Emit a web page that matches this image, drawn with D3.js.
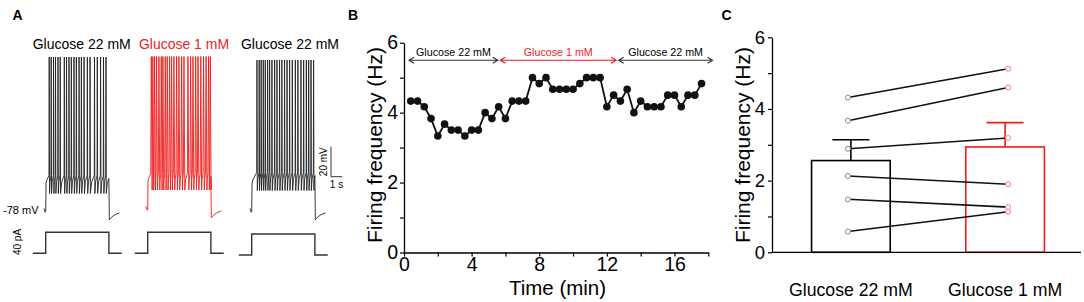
<!DOCTYPE html>
<html>
<head>
<meta charset="utf-8">
<script src="https://cdn.jsdelivr.net/npm/d3@7"></script>
<style>
  body { margin: 0; background: #fff; }
  text { font-family: Arial, "Liberation Sans", sans-serif; }
</style>
</head>
<body>
<div id="chart"></div>
<script>
// ---- panel A : current clamp traces ----
const traceTitles = ["Glucose 22 mM", "Glucose 1 mM", "Glucose 22 mM"];
// spike times (s after step onset)
const spikes22a = [0.28, 0.45, 0.65, 0.82, 1.03, 1.22, 1.57, 1.76, 1.97, 2.17, 2.4, 2.6, 2.83, 3.03, 3.26, 3.54, 3.77, 4.15, 4.39, 4.67, 4.92, 5.13];
const spikes1 = [0.26, 0.39, 0.54, 0.71, 0.91, 1.11, 1.25, 1.45, 1.62, 1.82, 1.99, 2.19, 2.42, 2.62, 2.85, 3.05, 3.39, 3.62, 3.82, 4.05, 4.25, 4.49, 4.72, 4.94, 5.15, 5.3];
const spikes22b = [0.43, 0.62, 0.79, 0.97, 1.14, 1.34, 1.51, 1.71, 1.94, 2.14, 2.36, 2.56, 2.79, 3.0, 3.22, 3.45, 3.71, 3.93, 4.19, 4.42, 4.65, 4.85, 5.05, 5.27];
const spikePeak = [24, 23, 22];          // mV
const spikeThreshold = [-55, -55, -53];  // mV
const spikeTrough = [-67, -66, -65];     // mV
const restMv = -78;
const stepEnd = 5.4;                     // s
const tailTime = [0.04, 0.15, 0.35, 0.6, 0.9];
const tailMv = [-84.5, -83.5, -82, -80.8, -80];
const stepTime = [-1.1, 0, 0, 5.4, 5.4, 6.5];
const stepPa = [0, 0, 40, 40, 0, 0];

// ---- panel B : time course ----
const minutes = [0.4, 0.8, 1.2, 1.6, 2.0, 2.4, 2.8, 3.2, 3.6, 4.0, 4.4, 4.8, 5.2, 5.6, 6.0, 6.4, 6.8, 7.2, 7.6, 8.0, 8.4, 8.8,
  9.2, 9.6, 10.0, 10.4, 10.8, 11.2, 11.6, 12.0, 12.4, 12.8, 13.2, 13.6, 14.0, 14.4, 14.8, 15.2, 15.6, 16.0, 16.4, 16.8, 17.2, 17.6];
const firingHz = [4.33, 4.33, 4.17, 3.83, 3.33, 3.67, 3.5, 3.5, 3.33, 3.5, 3.5, 4.0, 3.83, 4.17, 3.83, 4.33, 4.33, 4.33, 5.0, 4.83, 5.0, 4.67,
  4.67, 4.67, 4.67, 4.83, 5.0, 5.0, 5.0, 4.17, 4.5, 4.33, 4.67, 4.0, 4.33, 4.17, 4.17, 4.17, 4.5, 4.5, 4.17, 4.5, 4.5, 4.83];
const periodLabels = ["Glucose 22 mM", "Glucose 1 mM", "Glucose 22 mM"];
const periodStart = [0.3, 5.7, 12.7];
const periodEnd = [5.55, 12.55, 18.25];
const periodLevel = 5.5;
const xTicksB = [0, 2, 4, 6, 8, 10, 12, 14, 16, 18];
const xLabelsB = [0, 4, 8, 12, 16];
const yTicks = [0, 1, 2, 3, 4, 5, 6];
const yLabels = [0, 2, 4, 6];

// ---- panel C : paired comparison ----
const groups = ["Glucose 22 mM", "Glucose 1 mM"];
const meanHz = [2.56, 2.94];
const semHz = [0.58, 0.68];
const cellsHigh = [4.32, 3.67, 2.89, 2.13, 1.48, 0.58];
const cellsLow = [5.12, 4.60, 3.19, 1.90, 1.26, 1.13];

const red = "#ee1c1c";
const width = 1084, height = 302;

const svg = d3.select("#chart").append("svg")
  .attr("width", width)
  .attr("height", height);

// panel letters
svg.selectAll(".panel-letter")
  .data([["A", 12.5], ["B", 348], ["C", 721.5]])
  .join("text")
  .attr("x", d => d[0] === "A" ? d[1] : d[1])
  .attr("y", 20)
  .attr("font-size", 14)
  .attr("font-weight", "bold")
  .text(d => d[0]);

// ================= A =================
const traces = [
  { spikes: spikes22a, x0: 45.7, y0: 210, iy0: 253.3, color: "#222", w: [0.02, 0.05] },
  { spikes: spikes1, x0: 147.7, y0: 208, iy0: 253.3, color: red, w: [0.05, 0.12] },
  { spikes: spikes22b, x0: 251.7, y0: 210, iy0: 255, color: "#222", w: [0.02, 0.05] }
];
const titleX = [81.7, 184, 290];

svg.selectAll(".trace-title")
  .data(traceTitles)
  .join("text")
  .attr("x", (d, i) => titleX[i])
  .attr("y", 49)
  .attr("text-anchor", "middle")
  .attr("font-size", 14)
  .attr("fill", (d, i) => i === 1 ? red : "#000")
  .text(d => d);

traces.forEach((tr, i) => {
  const xT = d3.scaleLinear().domain([0, 1]).range([tr.x0, tr.x0 + 11.7]);
  const yV = d3.scaleLinear().domain([restMv, restMv + 20]).range([tr.y0, tr.y0 - 30]);
  const thr = spikeThreshold[i], tro = spikeTrough[i], pk = spikePeak[i];

  const pts = [[-0.15, restMv + 1], [-0.04, restMv - 1.5], [0, restMv - 1], [0.03, -60], [0.12, -57.5]];
  let prev = null;
  tr.spikes.forEach(t => {
    if (prev !== null) {
      const gap = t - prev;
      pts.push([prev + gap * 0.35, tro + 0.65 * (thr - tro)]);
    }
    pts.push([t, thr], [t + tr.w[0], pk], [t + tr.w[1], tro]);
    prev = t + tr.w[1];
  });
  pts.push([prev + (stepEnd - prev) * 0.4, tro + 0.6 * (thr - tro)], [stepEnd, thr - 2]);
  tailTime.forEach((t, k) => pts.push([stepEnd + t, tailMv[k]]));

  svg.append("path")
    .datum(pts)
    .attr("fill", "none")
    .attr("stroke", tr.color)
    .attr("stroke-width", 0.9)
    .attr("stroke-linejoin", "round")
    .attr("d", d3.line().x(d => xT(d[0])).y(d => yV(d[1])));

  // current step
  const yI = d3.scaleLinear().domain([0, 40]).range([tr.iy0, tr.iy0 - 21]);
  svg.append("path")
    .datum(stepTime.map((t, k) => [t, stepPa[k]]))
    .attr("fill", "none")
    .attr("stroke", "#333")
    .attr("stroke-width", 1.4)
    .attr("d", d3.line().x(d => xT(d[0])).y(d => yI(d[1])));
});

svg.append("text")
  .attr("x", 38.5).attr("y", 214)
  .attr("text-anchor", "end")
  .attr("font-size", 11)
  .text("-78 mV");

svg.append("text")
  .attr("transform", "translate(20.5,242)rotate(-90)")
  .attr("text-anchor", "middle")
  .attr("font-size", 10)
  .text("40 pA");

// scale bar
svg.append("path")
  .attr("d", "M331,146.7V176.7H342.3")
  .attr("fill", "none")
  .attr("stroke", "#333")
  .attr("stroke-width", 1);
svg.append("text")
  .attr("transform", "translate(326.5,161.7)rotate(-90)")
  .attr("text-anchor", "middle")
  .attr("font-size", 10)
  .text("20 mV");
svg.append("text")
  .attr("x", 336.5).attr("y", 187.5)
  .attr("text-anchor", "middle")
  .attr("font-size", 10)
  .text("1 s");

// ================= B =================
const xB = d3.scaleLinear().domain([0, 18]).range([404, 708.3]);
const yB = d3.scaleLinear().domain([0, 6]).range([252.5, 42.7]);

function styleAxis(g, fs) {
  g.select(".domain").attr("stroke", "#000").attr("stroke-width", 1.3);
  g.selectAll(".tick line").attr("stroke", "#000").attr("stroke-width", 1.2);
  g.selectAll(".tick text").attr("font-size", fs).attr("fill", "#000")
    .attr("font-family", "Arial, 'Liberation Sans', sans-serif");
}

svg.append("g")
  .attr("transform", `translate(0,${yB(0)})`)
  .call(d3.axisBottom(xB).tickValues(xTicksB).tickSize(4).tickSizeOuter(0).tickPadding(1)
    .tickFormat(d => xLabelsB.includes(d) ? d : ""))
  .call(g => styleAxis(g, 19.5));

svg.append("g")
  .attr("transform", `translate(${xB(0)},0)`)
  .call(d3.axisLeft(yB).tickValues(yTicks).tickSize(4).tickSizeOuter(0).tickPadding(2)
    .tickFormat(d => yLabels.includes(d) ? d : ""))
  .call(g => styleAxis(g, 19.5));

svg.append("text")
  .attr("transform", `translate(374,145)rotate(-90)`)
  .attr("text-anchor", "middle")
  .attr("dominant-baseline", "central")
  .attr("font-size", 21)
  .text("Firing frequency (Hz)");

svg.append("text")
  .attr("x", 557.5).attr("y", 295)
  .attr("text-anchor", "middle")
  .attr("font-size", 20.5)
  .text("Time (min)");

// period arrows
periodLabels.forEach((lab, i) => {
  const c = i === 1 ? red : "#333";
  const x1 = xB(periodStart[i]), x2 = xB(periodEnd[i]), y = yB(periodLevel);
  svg.append("path")
    .attr("d", `M${x1},${y}H${x2}M${x1 + 5},${y - 3}L${x1},${y}L${x1 + 5},${y + 3}M${x2 - 5},${y - 3}L${x2},${y}L${x2 - 5},${y + 3}`)
    .attr("fill", "none")
    .attr("stroke", c)
    .attr("stroke-width", 1.1);
  svg.append("text")
    .attr("x", (x1 + x2) / 2).attr("y", y - 4.5)
    .attr("text-anchor", "middle")
    .attr("font-size", 10.7)
    .attr("fill", i === 1 ? red : "#000")
    .text(lab);
});

const rateData = minutes.map((m, i) => ({ m, hz: firingHz[i] }));
svg.append("path")
  .datum(rateData)
  .attr("fill", "none")
  .attr("stroke", "#111")
  .attr("stroke-width", 1.8)
  .attr("d", d3.line().x(d => xB(d.m)).y(d => yB(d.hz)));
svg.selectAll(".rate-dot")
  .data(rateData)
  .join("circle")
  .attr("cx", d => xB(d.m))
  .attr("cy", d => yB(d.hz))
  .attr("r", 3.8)
  .attr("fill", "#111");

// ================= C =================
const xC = d3.scaleBand().domain(groups).range([773, 1083]).paddingInner(0.49).paddingOuter(0.25);
const yC = d3.scaleLinear().domain([0, 6]).range([252.3, 37.3]);
const colC = ["#000", red];

svg.append("g")
  .attr("transform", `translate(772,0)`)
  .call(d3.axisLeft(yC).tickValues(yTicks).tickSize(4).tickSizeOuter(0).tickPadding(3)
    .tickFormat(d => yLabels.includes(d) ? d : ""))
  .call(g => styleAxis(g, 18.5));

svg.append("text")
  .attr("transform", `translate(742,145)rotate(-90)`)
  .attr("text-anchor", "middle")
  .attr("dominant-baseline", "central")
  .attr("font-size", 21)
  .text("Firing frequency (Hz)");

// error bars
groups.forEach((g, i) => {
  const cx = xC(g) + xC.bandwidth() / 2;
  svg.append("path")
    .attr("d", `M${cx},${yC(meanHz[i])}V${yC(meanHz[i] + semHz[i])}M${cx - 18.5},${yC(meanHz[i] + semHz[i])}H${cx + 18.5}`)
    .attr("stroke", colC[i])
    .attr("stroke-width", 1.6)
    .attr("fill", "none");
});

svg.selectAll(".bar")
  .data(groups)
  .join("rect")
  .attr("x", d => xC(d))
  .attr("y", (d, i) => yC(meanHz[i]))
  .attr("width", xC.bandwidth())
  .attr("height", (d, i) => yC(0) - yC(meanHz[i]))
  .attr("fill", "#fff")
  .attr("stroke", (d, i) => colC[i])
  .attr("stroke-width", 1.6);

// x axis line of C
svg.append("line")
  .attr("x1", 772).attr("x2", 1081)
  .attr("y1", yC(0)).attr("y2", yC(0))
  .attr("stroke", "#000").attr("stroke-width", 1.3);

const cxHigh = xC(groups[0]) + xC.bandwidth() / 2 - 3;
const cxLow = xC(groups[1]) + xC.bandwidth() / 2 + 3;
const pairs = cellsHigh.map((v, i) => ({ a: v, b: cellsLow[i] }));

svg.selectAll(".pair-line")
  .data(pairs)
  .join("line")
  .attr("x1", cxHigh).attr("x2", cxLow)
  .attr("y1", d => yC(d.a)).attr("y2", d => yC(d.b))
  .attr("stroke", "#111")
  .attr("stroke-width", 1.6);

svg.selectAll(".pt-high")
  .data(cellsHigh)
  .join("circle")
  .attr("cx", cxHigh).attr("cy", d => yC(d))
  .attr("r", 2.5)
  .attr("fill", "#fff").attr("stroke", "#888").attr("stroke-width", 1);

svg.selectAll(".pt-low")
  .data(cellsLow)
  .join("circle")
  .attr("cx", cxLow).attr("cy", d => yC(d))
  .attr("r", 2.5)
  .attr("fill", "#fff").attr("stroke", "#f08080").attr("stroke-width", 1);

svg.selectAll(".group-label")
  .data(groups)
  .join("text")
  .attr("x", d => xC(d) + xC.bandwidth() / 2)
  .attr("y", 296)
  .attr("text-anchor", "middle")
  .attr("font-size", 17.7)
  .text(d => d);
</script>
</body>
</html>
